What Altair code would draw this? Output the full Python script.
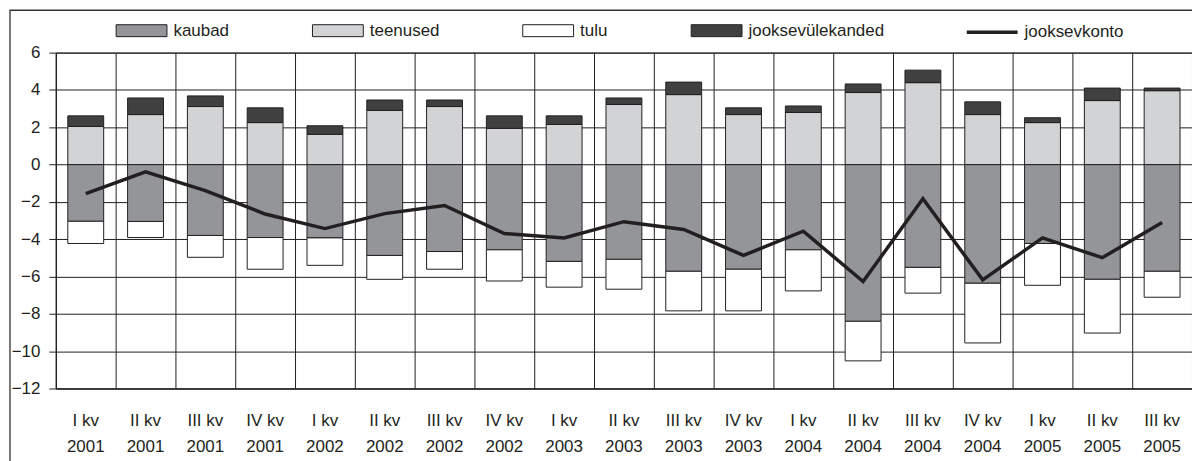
import altair as alt
import pandas as pd

quarters = ["I kv|2001", "II kv|2001", "III kv|2001", "IV kv|2001",
            "I kv|2002", "II kv|2002", "III kv|2002", "IV kv|2002",
            "I kv|2003", "II kv|2003", "III kv|2003", "IV kv|2003",
            "I kv|2004", "II kv|2004", "III kv|2004", "IV kv|2004",
            "I kv|2005", "II kv|2005", "III kv|2005"]

kaubad = [-3.04, -3.05, -3.80, -3.91, -3.93, -4.87, -4.66, -4.57, -5.19, -5.08,
          -5.72, -5.61, -4.57, -8.40, -5.51, -6.36, -4.23, -6.15, -5.72]
teenused = [2.04, 2.68, 3.11, 2.25, 1.62, 2.90, 3.11, 1.94, 2.15, 3.22,
            3.75, 2.68, 2.79, 3.86, 4.39, 2.68, 2.25, 3.43, 3.96]
tulu = [-1.19, -0.86, -1.17, -1.70, -1.47, -1.28, -0.95, -1.67, -1.38, -1.60,
        -2.12, -2.23, -2.20, -2.12, -1.38, -3.20, -2.24, -2.88, -1.39]
jooksevulekanded = [0.57, 0.89, 0.57, 0.79, 0.46, 0.56, 0.35, 0.67, 0.46, 0.35,
                    0.67, 0.36, 0.35, 0.46, 0.67, 0.68, 0.26, 0.67, 0.14]
jooksevkonto = [-1.56, -0.39, -1.40, -2.65, -3.43, -2.63, -2.19, -3.70, -3.93, -3.06,
                -3.48, -4.87, -3.57, -6.27, -1.83, -6.18, -3.93, -4.99, -3.11]

series_names = ["kaubad", "teenused", "tulu", "jooksevülekanded"]
series_colors = ["#939598", "#d1d3d4", "#ffffff", "#404040"]
series_values = [kaubad, teenused, tulu, jooksevulekanded]
y_ticks = [-12, -10, -8, -6, -4, -2, 0, 2, 4, 6]

rows = []
for order, (name, vals) in enumerate(zip(series_names, series_values)):
    for q, v in zip(quarters, vals):
        rows.append({"kvartal": q, "komponent": name, "väärtus": v, "ord": order})
bars_df = pd.DataFrame(rows)
line_df = pd.DataFrame({"kvartal": quarters, "väärtus": jooksevkonto,
                        "nimi": ["jooksevkonto"] * len(quarters)})

FONT = "Liberation Sans"
INK = "#231f20"
W, H = 1140, 337

x_axis = alt.Axis(title=None, ticks=False, grid=True, bandPosition=0,
                  labelAngle=0, labelExpr="split(datum.label, '|')",
                  labelLineHeight=26, labelFontSize=17, labelFont=FONT,
                  labelColor=INK, labelPadding=24, labelBaseline="top",
                  gridColor=INK, gridWidth=1, domainColor=INK)
y_axis = alt.Axis(title=None, values=y_ticks, grid=True,
                  gridColor=INK, gridWidth=1, domainColor=INK,
                  tickColor=INK, tickSize=7, labelFontSize=17,
                  labelFont=FONT, labelColor=INK, labelPadding=9)
x_scale = alt.Scale(paddingInner=0, paddingOuter=0)
y_scale = alt.Scale(domain=[-12, 6], nice=False)

frame = alt.Chart(pd.DataFrame({"f": [0]})).mark_rect(
    fillOpacity=0, stroke="#333333", strokeWidth=1.3
).encode(x=alt.value(-46), x2=alt.value(1160), y=alt.value(-42.5), y2=alt.value(430))

bars = alt.Chart(bars_df).mark_bar(
    width=alt.RelativeBandSize(0.6), stroke=INK, strokeWidth=1
).encode(
    x=alt.X("kvartal:N", sort=quarters, scale=x_scale, axis=x_axis),
    y=alt.Y("väärtus:Q", stack="zero", scale=y_scale, axis=y_axis),
    color=alt.Color("komponent:N",
                    scale=alt.Scale(domain=series_names, range=series_colors),
                    sort=series_names,
                    legend=alt.Legend(title=None, orient="none", legendX=60, legendY=-48,
                                      direction="horizontal", columns=4,
                                      columnPadding=81, labelOffset=6, padding=0,
                                      symbolType="M-1,-0.235H1V0.235H-1Z",
                                      symbolSize=2601, symbolStrokeColor=INK,
                                      symbolStrokeWidth=1, labelFontSize=17,
                                      labelFont=FONT, labelColor=INK, labelLimit=400)),
    order=alt.Order("ord:Q"),
)

line = alt.Chart(line_df).mark_line(strokeWidth=3.5).encode(
    x=alt.X("kvartal:N", sort=quarters, scale=x_scale, axis=x_axis),
    y=alt.Y("väärtus:Q", scale=y_scale, axis=y_axis),
    color=alt.Color("nimi:N", scale=alt.Scale(domain=["jooksevkonto"], range=[INK]),
                    legend=alt.Legend(title=None, orient="none", legendX=912, legendY=-48,
                                      labelOffset=5, padding=0,
                                      symbolType="M-1,0H1", symbolSize=2601,
                                      symbolStrokeWidth=3.5, labelFontSize=17,
                                      labelFont=FONT, labelColor=INK, labelLimit=400)),
)

chart = alt.layer(frame, bars, line).resolve_scale(color="independent").properties(
    width=W, height=H,
    autosize=alt.AutoSizeParams(type="none"),
    padding={"left": 48, "top": 44, "right": 0, "bottom": 72},
    background="white",
).configure_view(stroke=INK, strokeWidth=1).configure_axis(labelOverlap=False)

chart.save("out.html", embed_options={"renderer": "svg", "actions": False})
